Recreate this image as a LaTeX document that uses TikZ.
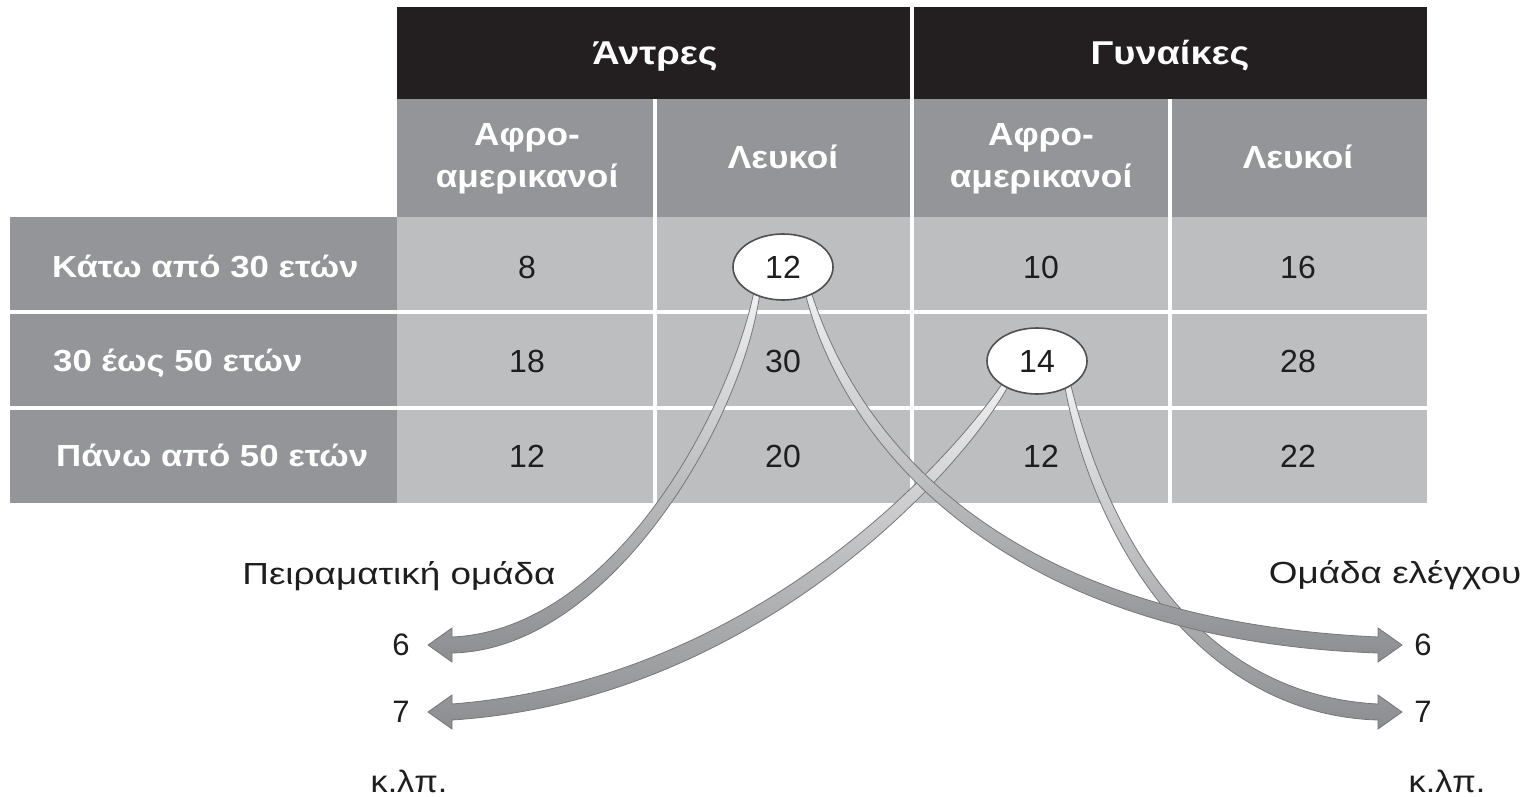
\documentclass[tikz,border=0pt]{standalone}
\usepackage{fontspec}
\setmainfont{Liberation Sans}
\newfontfamily\grhead[FakeStretch=1.15]{Liberation Sans}
\newfontfamily\grsub[FakeStretch=1.10]{Liberation Sans}
\newfontfamily\grrow[FakeStretch=1.14]{Liberation Sans}
\newfontfamily\grlab[FakeStretch=1.21]{Liberation Sans}
\newfontfamily\gretc[FakeStretch=1.10]{Liberation Sans}
\usetikzlibrary{shapes.geometric}
\definecolor{hdrblack}{RGB}{35,31,32}
\definecolor{midgray}{RGB}{147,149,152}
\definecolor{bodygray}{RGB}{188,190,192}
\definecolor{darkline}{RGB}{80,80,80}
\definecolor{ribtop}{RGB}{240,240,241}
\definecolor{ribmid}{RGB}{205,206,208}
\definecolor{ribgray}{RGB}{140,141,144}
\definecolor{ribedge}{RGB}{118,119,121}
\definecolor{txt}{RGB}{30,30,30}
\begin{document}
\begin{tikzpicture}[x=1pt,y=-1pt,
  hdr/.style={text=white,font=\grhead\bfseries\fontsize{33}{38}\selectfont,inner sep=0pt,text height=23.6pt,text depth=0pt},
  sub/.style={text=white,font=\grsub\bfseries\fontsize{32}{42}\selectfont,align=center,inner sep=0pt},
  subone/.style={text=white,font=\grsub\bfseries\fontsize{32}{42}\selectfont,inner sep=0pt,text height=22.9pt,text depth=0pt},
  rowlab/.style={text=white,font=\grrow\bfseries\fontsize{30.5}{34}\selectfont,anchor=west,inner sep=0pt,text height=21.8pt,text depth=0pt},
  num/.style={text=txt,font=\fontsize{32}{36}\selectfont,inner sep=0pt,text height=22.9pt,text depth=0pt},
  lab/.style={text=txt,font=\grlab\fontsize{30.5}{34}\selectfont,inner sep=0pt,text height=21.8pt,text depth=0pt},
  digit/.style={text=txt,font=\fontsize{31}{34}\selectfont,inner sep=0pt,text height=22.2pt,text depth=0pt},
  etc/.style={text=txt,font=\gretc\fontsize{31}{34}\selectfont,inner sep=0pt,text height=22.2pt,text depth=0pt},
  oval/.style={ellipse,draw=darkline,line width=1.6pt,fill=white,minimum width=100pt,minimum height=66pt,inner sep=0pt,text=txt,font=\fontsize{32}{36}\selectfont},
  ribbon/.style={draw=ribedge,line width=0.8pt,top color=ribtop,middle color=ribmid,bottom color=ribgray},
  sep/.style={draw=white,line width=3.5pt}
]
\useasboundingbox (0,0) rectangle (1526,797);
% table backgrounds
\fill[bodygray] (397,217) rectangle (1427,503);
\fill[midgray] (10,217) rectangle (397,503);
\fill[midgray] (397,99) rectangle (1427,217);
\fill[hdrblack] (397,7) rectangle (1427,99);
\draw[sep] (10,312) -- (1427,312);
\draw[sep] (10,408) -- (1427,408);
\draw[sep] (912,7) -- (912,503);
\draw[sep] (655,99) -- (655,503);
\draw[sep] (1170,99) -- (1170,503);
% headers
\node[hdr] (men) at (655,53) {Άντρες};
\node[hdr] (women) at (1170,53) {Γυναίκες};
\node[sub] (mAA) at (527,159) {Αφρο-\\αμερικανοί};
\node[subone] (mW) at (783,157.5) {Λευκοί};
\node[sub] (wAA) at (1041,159) {Αφρο-\\αμερικανοί};
\node[subone] (wW) at (1298,157.5) {Λευκοί};
% row labels
\node[rowlab] (r1) at (52,267) {Κάτω από 30 ετών};
\node[rowlab] (r2) at (53,361) {30 έως 50 ετών};
\node[rowlab] (r3) at (56,456) {Πάνω από 50 ετών};
% numbers
\node[num] (c11) at (527,267) {8};
\node[num] (c13) at (1041,267) {10};
\node[num] (c14) at (1298,267) {16};
\node[num] (c21) at (527,361) {18};
\node[num] (c22) at (783,361) {30};
\node[num] (c24) at (1298,361) {28};
\node[num] (c31) at (527,456) {12};
\node[num] (c32) at (783,456) {20};
\node[num] (c33) at (1041,456) {12};
\node[num] (c34) at (1298,456) {22};
% bottom labels
\node[lab] (exp) at (399,574) {Πειραματική ομάδα};
\node[lab] (ctl) at (1395,573) {Ομάδα ελέγχου};
\node[digit] (l6) at (401,644) {6};
\node[digit] (l7) at (401,711.5) {7};
\node[etc] (letc) at (409,781) {κ.λπ.};
\node[digit] (r6) at (1423,644) {6};
\node[digit] (r7) at (1423,711.5) {7};
\node[etc] (retc) at (1447,781) {κ.λπ.};
% ribbons: D, C, A, B
\path[ribbon] (1064.1,382.6) .. controls (1092.2,541.7) and (1200,715) .. (1378,720)
  -- (1378,729) -- (1402,712) -- (1378,695) -- (1378,704)
  .. controls (1200,695) and (1107.8,538.3) .. (1069.9,381.4) -- cycle;
\path[ribbon] (1004.5,380.4) .. controls (955.2,453.7) and (759.3,680) .. (452,704)
  -- (452,695) -- (428,712) -- (452,729) -- (452,720)
  .. controls (760.7,700) and (968.8,462.3) .. (1009.5,383.6) -- cycle;
\path[ribbon] (754,291.5) .. controls (727.1,418.6) and (610,630) .. (452,637)
  -- (452,628) -- (428,645) -- (452,662) -- (452,653)
  .. controls (610,650) and (742.9,421.4) .. (760,292.5) -- cycle;
\path[ribbon] (805.1,292.8) .. controls (842.3,442.2) and (1000,640) .. (1378,653)
  -- (1378,662) -- (1402,645) -- (1378,628) -- (1378,637)
  .. controls (1000,620) and (857.7,437.8) .. (810.9,291.2) -- cycle;
% ovals
\node[oval] (e12) at (783,267) {12};
\node[oval] (e14) at (1037,361) {14};
\end{tikzpicture}
\end{document}
